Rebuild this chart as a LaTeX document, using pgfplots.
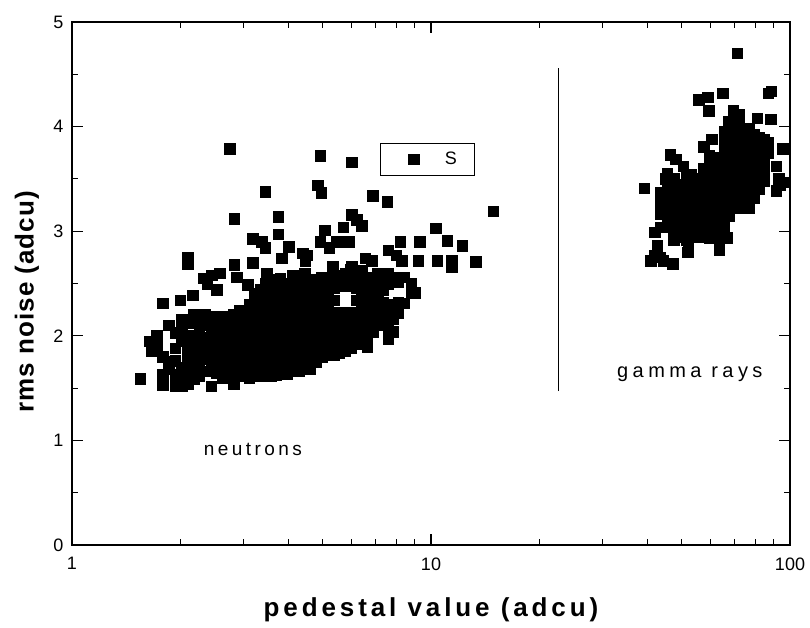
\documentclass[border=0pt]{standalone}
\usepackage{fontspec}
\setmainfont{Liberation Sans}
\usepackage{pgfplots}
\usepackage{pgfplotstable}
\pgfplotsset{compat=1.18}

\pgfplotstableread{
x y
2.75 3.79
3.45 3.38
4.91 3.72
6.02 3.66
4.84 3.44
4.94 3.37
6.88 3.34
7.55 3.28
14.9 3.19
2.83 3.12
3.75 3.14
6.02 3.16
6.20 3.11
5.69 3.04
6.42 3.05
5.06 3.01
10.3 3.03
3.75 2.97
3.19 2.93
3.38 2.90
3.45 2.84
4.02 2.85
4.40 2.79
4.50 2.77
3.84 2.74
3.19 2.70
2.83 2.68
2.10 2.75
2.10 2.69
11.1 2.91
12.2 2.86
9.3 2.90
8.2 2.90
5.90 2.90
5.47 2.90
4.91 2.90
5.20 2.84
7.6 2.82
8.0 2.77
8.3 2.72
6.55 2.74
6.85 2.72
9.2 2.72
10.4 2.72
11.4 2.72
11.4 2.66
13.3 2.71
5.33 2.66
6.02 2.66
4.46 2.72
2.32 2.55
2.45 2.58
2.58 2.60
2.38 2.50
2.88 2.56
3.09 2.49
2.53 2.44
2.17 2.39
2.00 2.34
1.79 2.31
3.49 2.60
3.80 2.55
3.34 2.44
3.34 2.31
1.55 1.59
1.64 1.95
1.66 1.86
1.72 2.00
1.72 1.90
1.79 1.80
1.79 1.63
1.79 1.53
1.86 2.10
1.86 1.75
1.86 1.68
1.94 2.03
1.94 1.88
1.94 1.76
1.94 1.63
1.94 1.52
2.02 2.16
2.02 2.06
2.02 1.95
2.02 1.70
2.02 1.61
2.02 1.52
2.10 2.12
2.10 1.88
2.10 1.78
2.10 1.66
2.10 1.54
2.18 2.20
2.18 2.00
2.18 1.90
2.18 1.70
2.18 1.59
2.26 2.14
2.26 2.04
2.26 1.82
2.26 1.72
2.26 1.62
2.34 2.20
2.34 2.10
2.34 1.98
2.34 1.88
2.34 1.78
2.34 1.66
2.44 2.18
2.44 2.06
2.44 1.95
2.44 1.85
2.44 1.74
2.44 1.52
2.53 2.18
2.53 2.08
2.53 1.99
2.53 1.88
2.53 1.76
2.53 1.65
2.62 2.16
2.62 2.04
2.62 1.92
2.62 1.82
2.62 1.70
2.62 1.60
2.72 2.18
2.72 2.10
2.72 1.99
2.72 1.90
2.72 1.80
2.72 1.70
2.82 2.20
2.82 2.14
2.82 2.03
2.82 1.93
2.82 1.84
2.82 1.74
2.82 1.62
2.82 1.54
2.92 2.24
2.92 2.18
2.92 2.08
2.92 1.98
2.92 1.88
2.92 1.78
2.92 1.68
3.02 2.22
3.02 2.12
3.02 2.02
3.02 1.92
3.02 1.82
3.02 1.72
3.02 1.62
3.12 2.30
3.12 2.20
3.12 2.10
3.12 2.00
3.12 1.90
3.12 1.80
3.12 1.70
3.12 1.60
3.22 2.40
3.22 2.24
3.22 2.14
3.22 2.04
3.22 1.94
3.22 1.84
3.22 1.74
3.22 1.64
3.34 2.20
3.34 2.10
3.34 2.00
3.34 1.90
3.34 1.80
3.34 1.70
3.34 1.62
3.46 2.50
3.46 2.37
3.46 2.26
3.46 2.16
3.46 2.06
3.46 1.96
3.46 1.86
3.46 1.76
3.46 1.66
3.58 2.54
3.58 2.40
3.58 2.30
3.58 2.20
3.58 2.10
3.58 2.00
3.58 1.90
3.58 1.80
3.58 1.70
3.58 1.62
3.70 2.45
3.70 2.34
3.70 2.22
3.70 2.12
3.70 2.02
3.70 1.92
3.70 1.82
3.70 1.72
3.70 1.63
3.84 2.44
3.84 2.30
3.84 2.18
3.84 2.06
3.84 1.96
3.84 1.86
3.84 1.76
3.84 1.66
3.98 2.50
3.98 2.38
3.98 2.26
3.98 2.14
3.98 2.04
3.98 1.94
3.98 1.84
3.98 1.74
3.98 1.64
4.12 2.58
4.12 2.46
4.12 2.34
4.12 2.22
4.12 2.10
4.12 2.00
4.12 1.90
4.12 1.80
4.12 1.70
4.28 2.52
4.28 2.40
4.28 2.28
4.28 2.16
4.28 2.06
4.28 1.96
4.28 1.86
4.28 1.76
4.28 1.66
4.44 2.60
4.44 2.46
4.44 2.34
4.44 2.22
4.44 2.12
4.44 2.02
4.44 1.92
4.44 1.82
4.44 1.72
4.60 2.54
4.60 2.40
4.60 2.28
4.60 2.18
4.60 2.08
4.60 1.98
4.60 1.88
4.60 1.78
4.60 1.68
4.78 2.48
4.78 2.36
4.78 2.24
4.78 2.14
4.78 2.04
4.78 1.94
4.78 1.84
4.78 1.75
4.96 2.56
4.96 2.44
4.96 2.32
4.96 2.20
4.96 2.10
4.96 2.00
4.96 1.90
4.96 1.80
5.15 2.52
5.15 2.40
5.15 2.28
5.15 2.16
5.15 2.06
5.15 1.96
5.15 1.86
5.35 2.58
5.35 2.46
5.35 2.34
5.35 2.22
5.35 2.12
5.35 2.02
5.35 1.92
5.35 1.82
5.55 2.55
5.55 2.20
5.55 2.10
5.55 2.00
5.55 1.90
5.55 1.84
5.77 2.60
5.77 2.48
5.77 2.22
5.77 2.12
5.77 2.02
5.77 1.94
5.77 1.86
5.98 2.63
5.98 2.52
5.98 2.16
5.98 2.06
5.98 1.96
5.98 1.88
6.20 2.58
6.20 2.46
6.20 2.34
6.20 2.22
6.20 2.12
6.20 2.02
6.20 1.92
6.42 2.62
6.42 2.50
6.42 2.38
6.42 2.26
6.42 2.14
6.42 2.04
6.42 1.94
6.65 2.56
6.65 2.44
6.65 2.32
6.65 2.20
6.65 2.08
6.65 1.98
6.65 1.89
6.88 2.50
6.88 2.38
6.88 2.26
6.88 2.14
6.88 2.04
7.10 2.60
7.10 2.48
7.10 2.36
7.10 2.24
7.10 2.12
7.35 2.56
7.35 2.44
7.35 2.32
7.35 2.20
7.35 2.10
7.60 2.60
7.60 2.50
7.60 2.30
7.60 2.18
7.60 2.06
7.60 1.97
7.85 2.56
7.85 2.28
7.85 2.16
7.85 2.04
8.10 2.52
8.10 2.32
8.10 2.22
8.40 2.56
8.40 2.31
8.80 2.50
8.80 2.41
9.00 2.41
}\neutrons

\pgfplotstableread{
x y
71.3 4.70
55.7 4.26
58.9 4.28
65.0 4.32
59.4 4.15
87.0 4.32
88.7 4.34
88.4 4.07
81.0 4.08
95.4 3.79
91.6 3.62
92.9 3.50
96.0 3.47
91.6 3.39
93.5 3.44
39.3 3.41
44.9 3.50
46.4 3.73
48.0 3.69
50.4 3.62
53.0 3.54
43.5 3.28
42.0 2.99
42.7 2.86
41.8 2.77
43.5 2.75
47.2 2.69
41.0 2.72
44.3 2.72
51.8 2.80
52.1 2.84
63.5 2.82
66.8 2.94
57.5 3.81
60.5 3.88
43.5 3.37
43.5 3.17
43.5 3.04
45.5 3.55
45.5 3.42
45.5 3.32
45.5 3.22
45.5 3.12
45.5 3.04
47.5 3.50
47.5 3.40
47.5 3.30
47.5 3.20
47.5 3.10
47.5 3.00
47.5 2.92
49.6 3.45
49.6 3.35
49.6 3.25
49.6 3.15
49.6 3.05
49.6 2.95
51.5 3.52
51.5 3.42
51.5 3.32
51.5 3.22
51.5 3.12
51.5 3.02
51.5 2.92
53.5 3.48
53.5 3.38
53.5 3.28
53.5 3.18
53.5 3.08
53.5 3.00
55.5 3.50
55.5 3.40
55.5 3.30
55.5 3.20
55.5 3.10
55.5 3.02
55.5 2.95
57.5 3.60
57.5 3.50
57.5 3.40
57.5 3.30
57.5 3.20
57.5 3.12
57.5 3.04
59.5 3.72
59.5 3.62
59.5 3.52
59.5 3.42
59.5 3.32
59.5 3.22
59.5 3.12
59.5 3.02
59.5 2.94
61.5 3.66
61.5 3.56
61.5 3.46
61.5 3.36
61.5 3.26
61.5 3.16
61.5 3.06
61.5 2.96
63.5 3.70
63.5 3.60
63.5 3.50
63.5 3.40
63.5 3.30
63.5 3.20
63.5 3.10
63.5 3.00
63.5 2.90
65.5 3.95
65.5 3.85
65.5 3.75
65.5 3.65
65.5 3.55
65.5 3.45
65.5 3.35
65.5 3.25
65.5 3.15
65.5 3.05
67.5 4.05
67.5 3.95
67.5 3.85
67.5 3.75
67.5 3.65
67.5 3.55
67.5 3.45
67.5 3.35
67.5 3.25
67.5 3.15
69.5 4.15
69.5 4.05
69.5 3.95
69.5 3.85
69.5 3.75
69.5 3.65
69.5 3.55
69.5 3.45
69.5 3.35
69.5 3.25
72.0 4.12
72.0 4.02
72.0 3.92
72.0 3.82
72.0 3.72
72.0 3.62
72.0 3.52
72.0 3.42
72.0 3.32
72.0 3.22
74.5 3.95
74.5 3.85
74.5 3.75
74.5 3.65
74.5 3.55
74.5 3.45
74.5 3.35
74.5 3.25
77.0 3.98
77.0 3.88
77.0 3.78
77.0 3.68
77.0 3.58
77.0 3.48
77.0 3.38
77.0 3.22
79.5 3.92
79.5 3.82
79.5 3.72
79.5 3.62
79.5 3.52
79.5 3.42
79.5 3.32
82.0 3.90
82.0 3.80
82.0 3.70
82.0 3.60
82.0 3.50
82.0 3.40
84.5 3.88
84.5 3.78
84.5 3.68
84.5 3.58
84.5 3.48
87.0 3.85
87.0 3.75
}\gammas

\begin{document}
\begin{tikzpicture}
\begin{axis}[
  at={(0pt,0pt)}, anchor=south west,
  scale only axis, width=718pt, height=523pt,
  xmode=log, log basis x=10,
  xmin=1, xmax=100, ymin=0, ymax=5,
  xtick={1,10,100}, xticklabels={1,10,100},
  minor xtick={2,3,4,5,6,7,8,9,20,30,40,50,60,70,80,90},
  ytick={0,1,2,3,4,5},
  minor ytick={0.5,1.5,2.5,3.5,4.5},
  tick align=inside,
  major tick length=11pt, minor tick length=6pt,
  every tick/.append style={black, line width=1.1pt},
  axis line style={line width=1.3pt},
  /pgf/number format/assume math mode=true,
  ticklabel style={font=\fontsize{18}{20}\selectfont},
  xticklabel style={yshift=-9pt},
  yticklabel style={xshift=-5pt},
  xlabel={pedestal value (adcu)},
  ylabel={rms noise (adcu)},
  xlabel style={at={(axis description cs:0.5,-0.124)}, anchor=center,
    font=\fontsize{26}{30}\selectfont\bfseries\addfontfeature{LetterSpace=15}},
  ylabel style={at={(axis description cs:-0.0627,0.465)}, anchor=center,
    font=\fontsize{26}{30}\selectfont\bfseries\addfontfeature{LetterSpace=4}},
  legend style={at={(axis description cs:0.429,0.769)}, anchor=north west,
    draw=black, line width=1.2pt, inner xsep=16pt, inner ysep=7pt,
    font=\fontsize{18}{20}\selectfont},
  legend image code/.code={\path (0pt,0pt) (45pt,0pt); \draw[#1] plot coordinates {(17pt,0pt)};},
]
\addplot[only marks, mark=square*, mark size=5.3pt, black] table[x=x,y=y] {\neutrons};
\addlegendentry{S}
\addplot[only marks, mark=square*, mark size=5.3pt, black, forget plot] table[x=x,y=y] {\gammas};
\addplot[black, line width=1.2pt, forget plot] coordinates {(22.7,1.47) (22.7,4.56)};
\pgfplotsinvokeforeach{2,3,4,5,6,7,8,9,20,30,40,50,60,70,80,90}{
  \draw[black, line width=1.1pt] (axis cs:#1,0) -- ++(0pt,6pt);
  \draw[black, line width=1.1pt] (axis cs:#1,5) -- ++(0pt,-6pt);
}
\draw[black, line width=1.1pt] (axis cs:10,0) -- ++(0pt,11pt);
\draw[black, line width=1.1pt] (axis cs:10,5) -- ++(0pt,-11pt);
\pgfplotsinvokeforeach{1,2,3,4}{
  \draw[black, line width=1.1pt] (axis cs:1,#1) -- ++(11pt,0pt);
  \draw[black, line width=1.1pt] (axis cs:100,#1) -- ++(-11pt,0pt);
}
\pgfplotsinvokeforeach{0.5,1.5,2.5,3.5,4.5}{
  \draw[black, line width=1.1pt] (axis cs:1,#1) -- ++(6pt,0pt);
  \draw[black, line width=1.1pt] (axis cs:100,#1) -- ++(-6pt,0pt);
}
\node[font=\fontsize{19}{22}\selectfont\addfontfeature{LetterSpace=18}] at (axis cs:3.19,0.91) {neutrons};
\node[font=\fontsize{20}{22}\selectfont\addfontfeature{LetterSpace=22}] at (axis cs:52.6,1.63) {gamma rays};
\end{axis}
\pgfresetboundingbox
\path[use as bounding box] (-72pt,-82pt) rectangle (738pt,545pt);
\end{tikzpicture}
\end{document}
